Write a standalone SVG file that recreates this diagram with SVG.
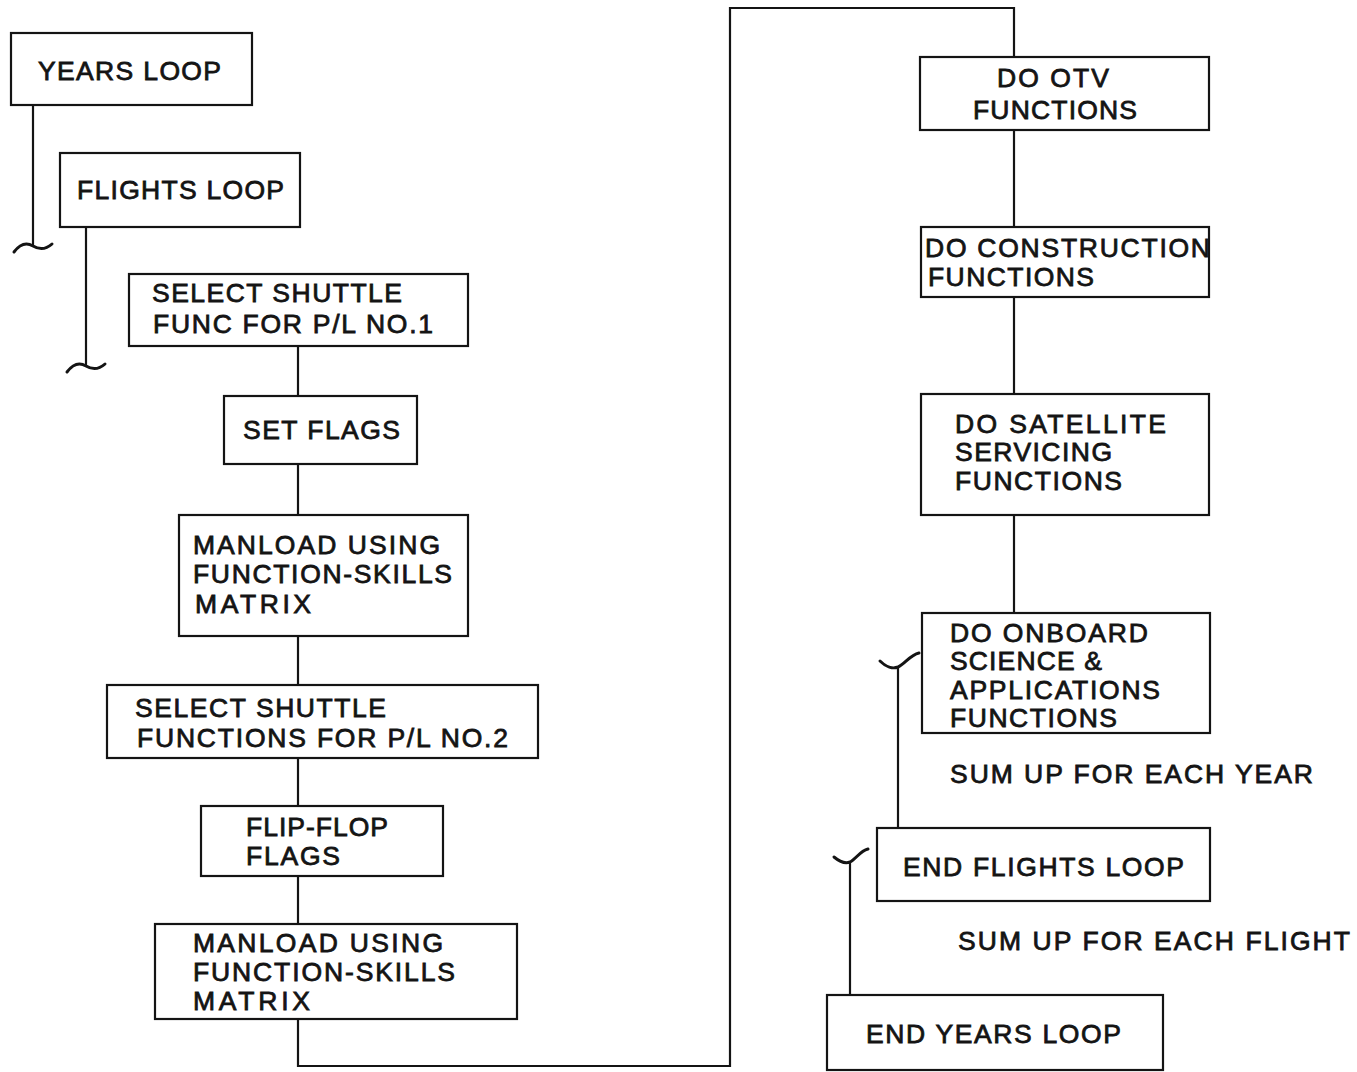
<svg xmlns="http://www.w3.org/2000/svg" width="1357" height="1072" viewBox="0 0 1357 1072">
<style>
  .box { fill: #ffffff; stroke: #141414; stroke-width: 2.2; }
  .ln { fill: none; stroke: #141414; stroke-width: 2.2; stroke-linejoin: miter; }
  .curl { fill: none; stroke: #141414; stroke-width: 3; stroke-linecap: round; }
  text { font-family: "Liberation Sans", Arial, sans-serif; font-size: 26.5px; fill: #141414; stroke: #141414; stroke-width: 0.8; }
</style>
<rect width="1357" height="1072" fill="#ffffff"/>

<g id="connectors">
  <path class="ln" d="M33,105 V246"/>
  <path class="curl" d="M14,252 Q23,240 33,246 Q43,252 52,244"/>
  <path class="ln" d="M86,227 V366"/>
  <path class="curl" d="M67,372 Q76,360 86,366 Q96,372 105,364"/>
  <path class="ln" d="M298,346 V396"/>
  <path class="ln" d="M298,464 V515"/>
  <path class="ln" d="M298,636 V685"/>
  <path class="ln" d="M298,758 V806"/>
  <path class="ln" d="M298,876 V924"/>
  <path class="ln" d="M298,1019 V1066 H730 V8 H1014 V57"/>
  <path class="ln" d="M1014,130 V227"/>
  <path class="ln" d="M1014,297 V394"/>
  <path class="ln" d="M1014,515 V613"/>
  <path class="ln" d="M898,828 V667"/>
  <path class="curl" d="M880,661 C886,667 893,669 898,667 C905,664 910,655 919,653"/>
  <path class="ln" d="M850,995 V862"/>
  <path class="curl" d="M834,857 C840,862 845,864 850,862 C856,859 860,851 868,849"/>
</g>

<g id="years-loop">
  <rect class="box" x="11" y="33" width="241" height="72"/>
  <text x="38" y="80" textLength="183" lengthAdjust="spacing">YEARS LOOP</text>
</g>
<g id="flights-loop">
  <rect class="box" x="60" y="153" width="240" height="74"/>
  <text x="77" y="199" textLength="207" lengthAdjust="spacing">FLIGHTS LOOP</text>
</g>
<g id="select-shuttle-1">
  <rect class="box" x="129" y="274" width="339" height="72"/>
  <text x="152" y="302" textLength="250" lengthAdjust="spacing">SELECT SHUTTLE</text>
  <text x="153" y="333" textLength="280" lengthAdjust="spacing">FUNC FOR P/L NO.1</text>
</g>
<g id="set-flags">
  <rect class="box" x="224" y="396" width="193" height="68"/>
  <text x="243" y="439" textLength="157" lengthAdjust="spacing">SET FLAGS</text>
</g>
<g id="manload-1">
  <rect class="box" x="179" y="515" width="289" height="121"/>
  <text x="193" y="554" textLength="247" lengthAdjust="spacing">MANLOAD USING</text>
  <text x="193" y="583" textLength="259" lengthAdjust="spacing">FUNCTION-SKILLS</text>
  <text x="195" y="613" textLength="116" lengthAdjust="spacing">MATRIX</text>
</g>
<g id="select-shuttle-2">
  <rect class="box" x="107" y="685" width="431" height="73"/>
  <text x="135" y="717" textLength="251" lengthAdjust="spacing">SELECT SHUTTLE</text>
  <text x="137" y="747" textLength="371" lengthAdjust="spacing">FUNCTIONS FOR P/L NO.2</text>
</g>
<g id="flip-flop-flags">
  <rect class="box" x="201" y="806" width="242" height="70"/>
  <text x="246" y="836" textLength="142" lengthAdjust="spacing">FLIP-FLOP</text>
  <text x="246" y="865" textLength="94" lengthAdjust="spacing">FLAGS</text>
</g>
<g id="manload-2">
  <rect class="box" x="155" y="924" width="362" height="95"/>
  <text x="193" y="952" textLength="250" lengthAdjust="spacing">MANLOAD USING</text>
  <text x="193" y="981" textLength="262" lengthAdjust="spacing">FUNCTION-SKILLS</text>
  <text x="193" y="1010" textLength="117" lengthAdjust="spacing">MATRIX</text>
</g>

<g id="otv">
  <rect class="box" x="920" y="57" width="289" height="73"/>
  <text x="997" y="87" textLength="112" lengthAdjust="spacing">DO OTV</text>
  <text x="973" y="119" textLength="164" lengthAdjust="spacing">FUNCTIONS</text>
</g>
<g id="construction">
  <rect class="box" x="921" y="227" width="288" height="70"/>
  <text x="925" y="257" textLength="285" lengthAdjust="spacing">DO CONSTRUCTION</text>
  <text x="928" y="286" textLength="166" lengthAdjust="spacing">FUNCTIONS</text>
</g>
<g id="satellite">
  <rect class="box" x="921" y="394" width="288" height="121"/>
  <text x="955" y="433" textLength="211" lengthAdjust="spacing">DO SATELLITE</text>
  <text x="955" y="461" textLength="157" lengthAdjust="spacing">SERVICING</text>
  <text x="955" y="490" textLength="167" lengthAdjust="spacing">FUNCTIONS</text>
</g>
<g id="onboard">
  <rect class="box" x="922" y="613" width="288" height="120"/>
  <text x="950" y="642" textLength="198" lengthAdjust="spacing">DO ONBOARD</text>
  <text x="950" y="670" textLength="152" lengthAdjust="spacing">SCIENCE &amp;</text>
  <text x="950" y="699" textLength="210" lengthAdjust="spacing">APPLICATIONS</text>
  <text x="950" y="727" textLength="167" lengthAdjust="spacing">FUNCTIONS</text>
</g>
<g id="sum-year">
  <text x="950" y="783" textLength="363" lengthAdjust="spacing">SUM UP FOR EACH YEAR</text>
</g>
<g id="end-flights-loop">
  <rect class="box" x="877" y="828" width="333" height="73"/>
  <text x="903" y="876" textLength="281" lengthAdjust="spacing">END FLIGHTS LOOP</text>
</g>
<g id="sum-flight">
  <text x="958" y="950" textLength="392" lengthAdjust="spacing">SUM UP FOR EACH FLIGHT</text>
</g>
<g id="end-years-loop">
  <rect class="box" x="827" y="995" width="336" height="75"/>
  <text x="866" y="1043" textLength="255" lengthAdjust="spacing">END YEARS LOOP</text>
</g>
</svg>
